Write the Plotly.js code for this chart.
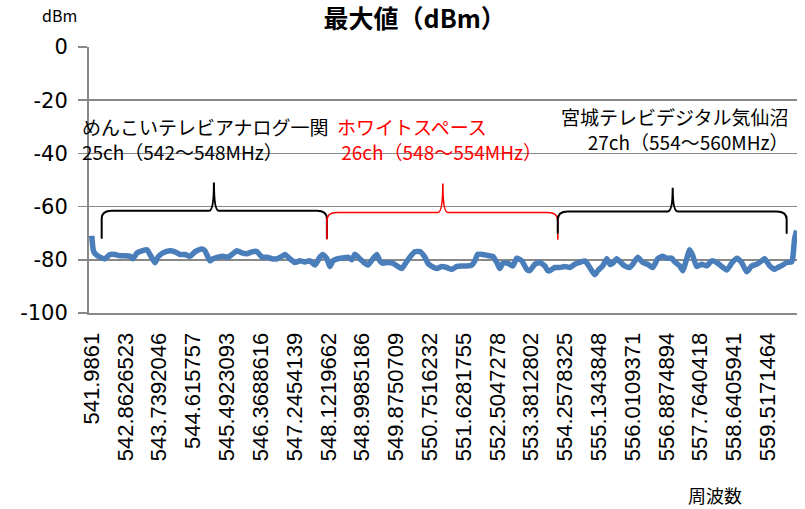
<!DOCTYPE html>
<html>
<head>
<meta charset="utf-8">
<script src="https://cdn.plot.ly/plotly-3.0.1.min.js"></script>
<style>
  html, body { margin: 0; padding: 0; background: #fff; }
  #chart { width: 805px; height: 509px; }
</style>
</head>
<body>
<div id="chart"></div>
<script>
// 周波数 (MHz)
const freqMHz = [
    541.986, 542.03, 542.072, 542.201, 542.331, 542.460, 542.590, 542.719, 542.849, 542.979,
    543.056, 543.160, 543.289, 543.419, 543.497, 543.626, 543.704, 543.834, 544.015, 544.145,
    544.274, 544.404, 544.533, 544.663, 544.844, 544.922, 545.051, 545.129, 545.259, 545.388,
    545.518, 545.621, 545.751, 545.881, 546.010, 546.140, 546.269, 546.399, 546.528, 546.658,
    546.787, 546.917, 546.995, 547.124, 547.254, 547.383, 547.513, 547.643, 547.772, 547.902,
    547.979, 548.083, 548.161, 548.238, 548.368, 548.498, 548.627, 548.731, 548.808, 548.938,
    549.068, 549.145, 549.275, 549.379, 549.456, 549.534, 549.664, 549.793, 549.923, 550.026,
    550.104, 550.234, 550.363, 550.493, 550.622, 550.700, 550.804, 550.933, 551.063, 551.192,
    551.322, 551.451, 551.581, 551.711, 551.840, 551.918, 551.996, 552.125, 552.255, 552.384,
    552.488, 552.566, 552.643, 552.773, 552.902, 553.006, 553.136, 553.265, 553.343, 553.473,
    553.602, 553.732, 553.809, 553.861, 553.991, 554.120, 554.250, 554.379, 554.509, 554.639,
    554.768, 554.846, 554.949, 555.027, 555.105, 555.234, 555.338, 555.416, 555.494, 555.597,
    555.675, 555.804, 555.934, 556.012, 556.141, 556.271, 556.400, 556.530, 556.660, 556.789,
    556.893, 557.022, 557.100, 557.230, 557.307, 557.411, 557.489, 557.566, 557.670, 557.800,
    557.929, 558.059, 558.188, 558.318, 558.447, 558.577, 558.707, 558.836, 558.966, 559.095,
    559.225, 559.354, 559.432, 559.562, 559.691, 559.769, 559.898, 560.002, 560.132, 560.158,
    560.209, 560.261
];

// 最大値 (dBm)
const maxDbm = [
    -71, -76.6, -77.7, -79, -79.6, -78, -78, -78.5, -78.5, -78.7,
    -79.6, -77.4, -76.6, -76.2, -78, -81.1, -79, -77.4, -76.6, -77,
    -78, -78, -78.7, -77, -75.9, -76.6, -80.4, -79.6, -79, -78.7,
    -79, -78, -76.6, -77.4, -77.7, -77, -76.9, -79, -79, -79.6,
    -79.6, -78.7, -78, -79.6, -81, -80.4, -80.8, -80.4, -82, -79,
    -78, -79.6, -82.5, -80.4, -79.6, -79.3, -79, -80, -77.9, -79.6,
    -81.3, -82, -79.6, -78, -80.4, -81.3, -81, -81.3, -82.5, -83.3,
    -81.7, -79, -77, -76.9, -79, -81.3, -82.5, -83.3, -82.5, -82.9,
    -83.6, -82.5, -82.3, -82.3, -82, -80.4, -77.9, -78, -78.4, -78.7,
    -81, -83.3, -81.3, -81.3, -82.3, -79.4, -80.4, -83.6, -84.1, -81.7,
    -81, -82.3, -84.1, -84.1, -82.9, -82.9, -82.5, -82.9, -81.7, -81,
    -80.4, -81.7, -84.1, -85.6, -84.1, -82.3, -79.6, -81.7, -81.3, -79.6,
    -80.6, -82.3, -82.9, -81.7, -79, -81, -81.7, -82.9, -79.6, -78.7,
    -79.4, -79.4, -80.8, -82.3, -84.1, -79.6, -76.2, -78.4, -82.5, -81.7,
    -82.3, -80.4, -81, -82.5, -83.8, -81.3, -79.4, -81, -84.5, -82.3,
    -81.7, -80.4, -79.6, -82.3, -83.6, -82.9, -82, -81, -80.8, -79.6,
    -72, -69
];

// category labels shown on the x axis
const tickLabels = [
    '541.9861', '542.8626523', '543.7392046', '544.615757', '545.4923093',
    '546.3688616', '547.2454139', '548.1219662', '548.9985186', '549.8750709',
    '550.7516232', '551.6281755', '552.5047278', '553.3812802', '554.2578325',
    '555.1343848', '556.0109371', '556.8874894', '557.7640418', '558.6405941',
    '559.5171464'
];

// y axis ticks
const yTicks = [0, -20, -40, -60, -80, -100];
const yTickText = ['0', '-20', '-40', '-60', '-80', '-100'];

// channel braces: start, middle, end (MHz)
const chStart = [542.245, 548.083, 554.068];
const chMid = [545.155, 551.089, 557.048];
const chEnd = [548.083, 554.068, 560.002];
const chColor = ['#000000', '#ff0000', '#000000'];

function bracePath(xa, xm, xb, yFootA, yFootB, yLevel, yPeak) {
    const rx = 0.26, ry = 3, px = 0.13;
    return `M ${xa},${yFootA} L ${xa},${yLevel - ry} Q ${xa},${yLevel} ${xa + rx},${yLevel} ` +
        `L ${xm - px},${yLevel} Q ${xm},${yLevel} ${xm},${yPeak} ` +
        `Q ${xm},${yLevel} ${xm + px},${yLevel} ` +
        `L ${xb - rx},${yLevel} Q ${xb},${yLevel} ${xb},${yLevel - ry} L ${xb},${yFootB}`;
}

const braceGeom = [
    { fa: -72.1, fb: -72.1, level: -61.6, peak: -50.9, w: 2 },
    { fa: -72.4, fb: -72.5, level: -62.2, peak: -51.3, w: 1.6 },
    { fa: -70.2, fb: -70.2, level: -61.8, peak: -52.9, w: 2 }
];

const shapes = chStart.map((xa, i) => ({
    type: 'path',
    xref: 'x',
    yref: 'y',
    path: bracePath(xa, chMid[i], chEnd[i], braceGeom[i].fa, braceGeom[i].fb,
        braceGeom[i].level, braceGeom[i].peak),
    line: { color: chColor[i], width: braceGeom[i].w },
    layer: 'above'
}));

const jp = 'Noto Sans CJK JP, sans-serif';

const trace = {
    x: freqMHz,
    y: maxDbm,
    type: 'scatter',
    mode: 'lines',
    line: { color: '#4a7ebb', width: 5.5, shape: 'spline', smoothing: 0.5 },
    hoverinfo: 'skip',
    cliponaxis: false
};

const note = (text, x, y, anchor, color) => ({
    text: text,
    xref: 'paper',
    yref: 'paper',
    x: x,
    y: y,
    xanchor: anchor,
    yanchor: 'middle',
    align: anchor,
    showarrow: false,
    font: { family: jp, size: 19, color: color }
});

const layout = {
    width: 805,
    height: 509,
    margin: { l: 89, r: 8, t: 47, b: 196 },
    paper_bgcolor: '#ffffff',
    plot_bgcolor: '#ffffff',
    showlegend: false,
    title: {
        text: '<b>最大値（dBm）</b>',
        font: { family: jp, size: 25, color: '#000' },
        x: 0.46,
        xanchor: 'center',
        xref: 'paper',
        y: 0.962,
        yref: 'container',
        yanchor: 'middle'
    },
    xaxis: {
        range: [541.916, 560.27],
        tickmode: 'array',
        tickvals: tickLabels.map(Number),
        ticktext: tickLabels,
        tickangle: -90,
        tickfont: { family: 'Liberation Sans, sans-serif', size: 22, color: '#000' },
        ticklabelstandoff: 9,
        ticks: '',
        showgrid: false,
        zeroline: false,
        showline: true,
        linecolor: '#888888',
        linewidth: 2
    },
    yaxis: {
        range: [-100, 0],
        tickmode: 'array',
        tickvals: yTicks,
        ticktext: yTickText,
        tickfont: { family: 'DejaVu Sans, sans-serif', size: 21, color: '#000' },
        ticks: 'outside',
        ticklen: 9,
        tickwidth: 1.5,
        tickcolor: '#888888',
        ticklabelstandoff: 6,
        showgrid: true,
        gridcolor: '#888888',
        gridwidth: 1.5,
        zeroline: false,
        showline: true,
        linecolor: '#888888',
        linewidth: 2
    },
    shapes: shapes,
    annotations: [
        {
            text: 'dBm', xref: 'paper', yref: 'paper', x: -0.041, y: 1.12,
            xanchor: 'center', yanchor: 'middle', showarrow: false,
            font: { family: jp, size: 16, color: '#000' }
        },
        {
            text: '周波数', xref: 'paper', yref: 'paper', x: 0.884, y: -0.685,
            xanchor: 'center', yanchor: 'middle', showarrow: false,
            font: { family: jp, size: 18, color: '#000' }
        },
        note('めんこいテレビアナログ一関<br>25ch（542～548MHz）', -0.0127, 0.656, 'left', '#000'),
        note('ホワイトスペース<br> 26ch（548～554MHz）', 0.3475, 0.656, 'left', '#ff0000'),
        note('宮城テレビデジタル気仙沼<br>27ch（554～560MHz）', 0.9915, 0.693, 'right', '#000')
    ]
};

Plotly.newPlot('chart', [trace], layout, { displayModeBar: false, staticPlot: true });
</script>
</body>
</html>
